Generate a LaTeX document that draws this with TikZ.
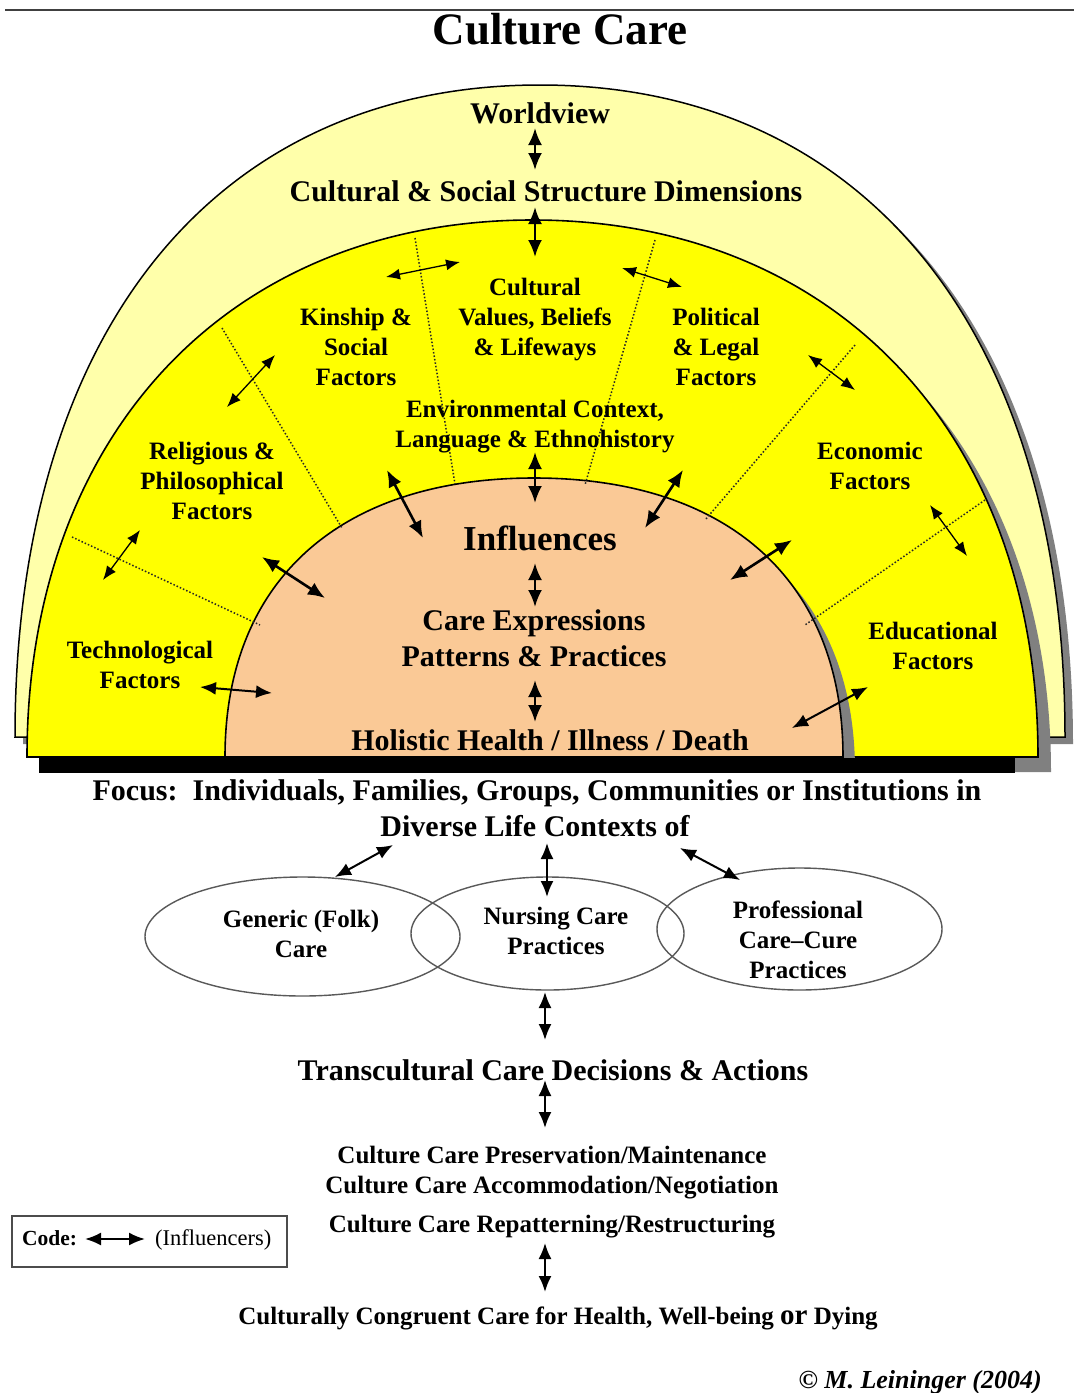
\documentclass[tikz,border=0pt]{standalone}
\usepackage{fontspec}
\setmainfont{Liberation Serif}
\usetikzlibrary{arrows.meta,shapes.geometric}
\definecolor{paleyel}{RGB}{255,255,170}
\definecolor{brightyel}{RGB}{255,255,0}
\definecolor{peach}{RGB}{250,201,150}
\definecolor{shadowgray}{RGB}{128,128,128}
% half dome: cx, base y, half width, height, control factor, style
\newcommand{\dome}[6]{\path[#6] ({#1-#3},#2) .. controls ({#1-#3},{#2-#5*#4}) and ({#1-#5*#3},{#2-#4}) .. (#1,{#2-#4}) .. controls ({#1+#5*#3},{#2-#4}) and ({#1+#3},{#2-#5*#4}) .. ({#1+#3},#2) -- cycle;}
\begin{document}
\begin{tikzpicture}[x=1pt,y=-1pt,
  lab/.style={font=\bfseries\fontsize{25}{30}\selectfont, inner sep=0pt, anchor=base},
  biglab/.style={font=\bfseries\fontsize{30}{36}\selectfont, inner sep=0pt, anchor=base},
  smlab/.style={font=\bfseries\fontsize{25}{30}\selectfont, inner sep=0pt, anchor=base},
  tarr/.style={{Latex[length=14pt,width=11pt]}-{Latex[length=14pt,width=11pt]}, line width=1.3pt},
  marr/.style={{Latex[length=16pt,width=13pt]}-{Latex[length=16pt,width=13pt]}, line width=2pt},
  karr/.style={{Latex[length=17pt,width=14pt]}-{Latex[length=17pt,width=14pt]}, line width=2.6pt},
  sepline/.style={dotted, line width=1.5pt, black!85},
  bubble/.style={ellipse, draw=black!65, line width=1.4pt, inner sep=0pt}]
\useasboundingbox (0,0) rectangle (1074,1393);
\fill[white] (0,0) rectangle (1074,1393);

% top rule
\draw[line width=2.5pt, black!75] (5,10) -- (1074,10);

% domes with shadows
\dome{548}{744}{525}{652}{0.62}{fill=shadowgray}
\dome{540}{737}{525}{652}{0.62}{fill=paleyel, draw=black, line width=1.5pt}
\dome{545.5}{772}{505.5}{537}{0.6}{fill=shadowgray}
\dome{532.5}{757}{505.5}{537}{0.6}{fill=brightyel, draw=black, line width=1.6pt}
\dome{546}{771}{309}{279}{0.63}{fill=shadowgray}
\dome{534}{757}{309}{279}{0.63}{fill=peach, draw=black, line width=1.6pt}

% base bar
\fill[black] (39,758) rectangle (1015,773);

% dotted separators
\draw[sepline] (415,238) -- (455,484);
\draw[sepline] (655,240) -- (585,485);
\draw[sepline] (222,328) -- (342,528);
\draw[sepline] (855,345) -- (705,520);
\draw[sepline] (72,537) -- (260,625);
\draw[sepline] (985,500) -- (805,625);

% title
\node[font=\bfseries\fontsize{45}{50}\selectfont, inner sep=0pt, anchor=base] (title) at (560,44) {Culture Care};

% upper labels
\node[biglab] (world) at (540,123) {Worldview};
\node[biglab] (cssd) at (546,201) {Cultural \& Social Structure Dimensions};

\node[lab] (cv1) at (535,295) {Cultural};
\node[lab] (cv2) at (535,325) {Values, Beliefs};
\node[lab] (cv3) at (535,355) {\& Lifeways};

\node[lab] (ks1) at (356,325) {Kinship \&};
\node[lab] (ks2) at (356,355) {Social};
\node[lab] (ks3) at (356,385) {Factors};

\node[lab] (pl1) at (716,325) {Political};
\node[lab] (pl2) at (716,355) {\& Legal};
\node[lab] (pl3) at (716,385) {Factors};

\node[lab] (env1) at (535,417) {Environmental Context,};
\node[lab] (env2) at (535,447) {Language \& Ethnohistory};

\node[lab] (rp1) at (212,459) {Religious \&};
\node[lab] (rp2) at (212,489) {Philosophical};
\node[lab] (rp3) at (212,519) {Factors};

\node[lab] (ec1) at (870,459) {Economic};
\node[lab] (ec2) at (870,489) {Factors};

\node[lab] (te1) at (140,658) {Technological};
\node[lab] (te2) at (140,688) {Factors};

\node[lab] (ed1) at (933,639) {Educational};
\node[lab] (ed2) at (933,669) {Factors};

\node[font=\bfseries\fontsize{35}{40}\selectfont, inner sep=0pt, anchor=base] (infl) at (540,550) {Influences};
\node[biglab] (ce1) at (534,630) {Care Expressions};
\node[biglab] (ce2) at (534,666) {Patterns \& Practices};
\node[biglab] (hol) at (550,750) {Holistic Health / Illness / Death};

% vertical arrows
\coordinate (v1a) at (535,128); \coordinate (v1b) at (535,170);
\coordinate (v2a) at (535,207); \coordinate (v2b) at (535,257);
\coordinate (v3a) at (535,452); \coordinate (v3b) at (535,503);
\coordinate (v4a) at (535,563); \coordinate (v4b) at (535,607);
\coordinate (v5a) at (535,680); \coordinate (v5b) at (535,722);
\draw[karr] (v1a) -- (v1b);
\draw[karr] (v2a) -- (v2b);
\draw[karr] (v3a) -- (v3b);
\draw[karr] (v4a) -- (v4b);
\draw[karr] (v5a) -- (v5b);

% thin arrows across dotted separators
\coordinate (a1a) at (386,277); \coordinate (a1b) at (460,262);
\coordinate (a2a) at (622,268); \coordinate (a2b) at (682,287);
\coordinate (a3a) at (227,407); \coordinate (a3b) at (275,355);
\coordinate (a4a) at (808,355); \coordinate (a4b) at (855,390);
\coordinate (a5a) at (140,530); \coordinate (a5b) at (103,580);
\coordinate (a6a) at (930,505); \coordinate (a6b) at (967,556);
\draw[tarr] (a1a) -- (a1b);
\draw[tarr] (a2a) -- (a2b);
\draw[tarr] (a3a) -- (a3b);
\draw[tarr] (a4a) -- (a4b);
\draw[tarr] (a5a) -- (a5b);
\draw[tarr] (a6a) -- (a6b);

% thick arrows into the inner dome
\coordinate (b1a) at (387,470); \coordinate (b1b) at (423,538);
\coordinate (b2a) at (683,470); \coordinate (b2b) at (645,528);
\coordinate (b3a) at (262,557); \coordinate (b3b) at (325,598);
\coordinate (b4a) at (792,540); \coordinate (b4b) at (730,580);
\coordinate (b5a) at (200,687); \coordinate (b5b) at (272,693);
\coordinate (b6a) at (868,687); \coordinate (b6b) at (792,728);
\draw[karr] (b1a) -- (b1b);
\draw[karr] (b2a) -- (b2b);
\draw[karr] (b3a) -- (b3b);
\draw[karr] (b4a) -- (b4b);
\draw[marr] (b5a) -- (b5b);
\draw[marr] (b6a) -- (b6b);

% focus text
\node[biglab] (focus) at (537,800) {Focus:\ \ Individuals, Families, Groups, Communities or Institutions in};
\node[biglab] (diverse) at (535,836) {Diverse Life Contexts of};

% ellipses
\node[bubble, minimum width=315pt, minimum height=119pt] (gen) at (302.5,936.5) {};
\node[bubble, minimum width=273pt, minimum height=113pt] (nurs) at (547.5,933.5) {};
\node[bubble, minimum width=285pt, minimum height=122pt] (prof) at (799.5,929) {};
\node[smlab] (g1) at (301,927) {Generic (Folk)};
\node[smlab] (g2) at (301,957) {Care};
\node[smlab] (n1) at (556,924) {Nursing Care};
\node[smlab] (n2) at (556,954) {Practices};
\node[smlab] (p1) at (798,918) {Professional};
\node[smlab] (p2) at (798,948) {Care--Cure};
\node[smlab] (p3) at (798,978) {Practices};

\coordinate (c1a) at (393,845); \coordinate (c1b) at (335,877);
\coordinate (c2a) at (547,843); \coordinate (c2b) at (547,897);
\coordinate (c3a) at (680,848); \coordinate (c3b) at (740,880);
\coordinate (c4a) at (545,992); \coordinate (c4b) at (545,1040);
\coordinate (c5a) at (545,1080); \coordinate (c5b) at (545,1128);
\coordinate (c6a) at (545,1243); \coordinate (c6b) at (545,1292);
\draw[marr] (c1a) -- (c1b);
\draw[marr] (c2a) -- (c2b);
\draw[marr] (c3a) -- (c3b);
\draw[marr] (c4a) -- (c4b);
\draw[marr] (c5a) -- (c5b);
\draw[marr] (c6a) -- (c6b);

% lower texts
\node[biglab] (trans) at (553,1080) {Transcultural Care Decisions \& Actions};
\node[smlab] (cc1) at (552,1163) {Culture Care Preservation/Maintenance};
\node[smlab] (cc2) at (552,1193) {Culture Care Accommodation/Negotiation};
\node[smlab] (cc3) at (552,1232) {Culture Care Repatterning/Restructuring};
\node[smlab] (cong) at (558,1324) {Culturally Congruent Care for Health, Well-being {\fontsize{29}{30}\selectfont or} Dying};

% code box
\draw[black!70, line width=1.5pt] (12,1216) rectangle (287,1267);
\node[font=\bfseries\fontsize{21.5}{25}\selectfont, inner sep=0pt, anchor=base west] (code) at (22,1245) {Code:};
\node[font=\fontsize{22.5}{25}\selectfont, inner sep=0pt, anchor=base west] (infl2) at (155,1245) {(Influencers)};
\coordinate (k1) at (85,1239); \coordinate (k2) at (145,1239);
\draw[marr] (k1) -- (k2);

% copyright
\node[font=\bfseries\itshape\fontsize{26}{30}\selectfont, inner sep=0pt, anchor=base east] (copy) at (1042,1388) {© M. Leininger (2004)};
\end{tikzpicture}
\end{document}
